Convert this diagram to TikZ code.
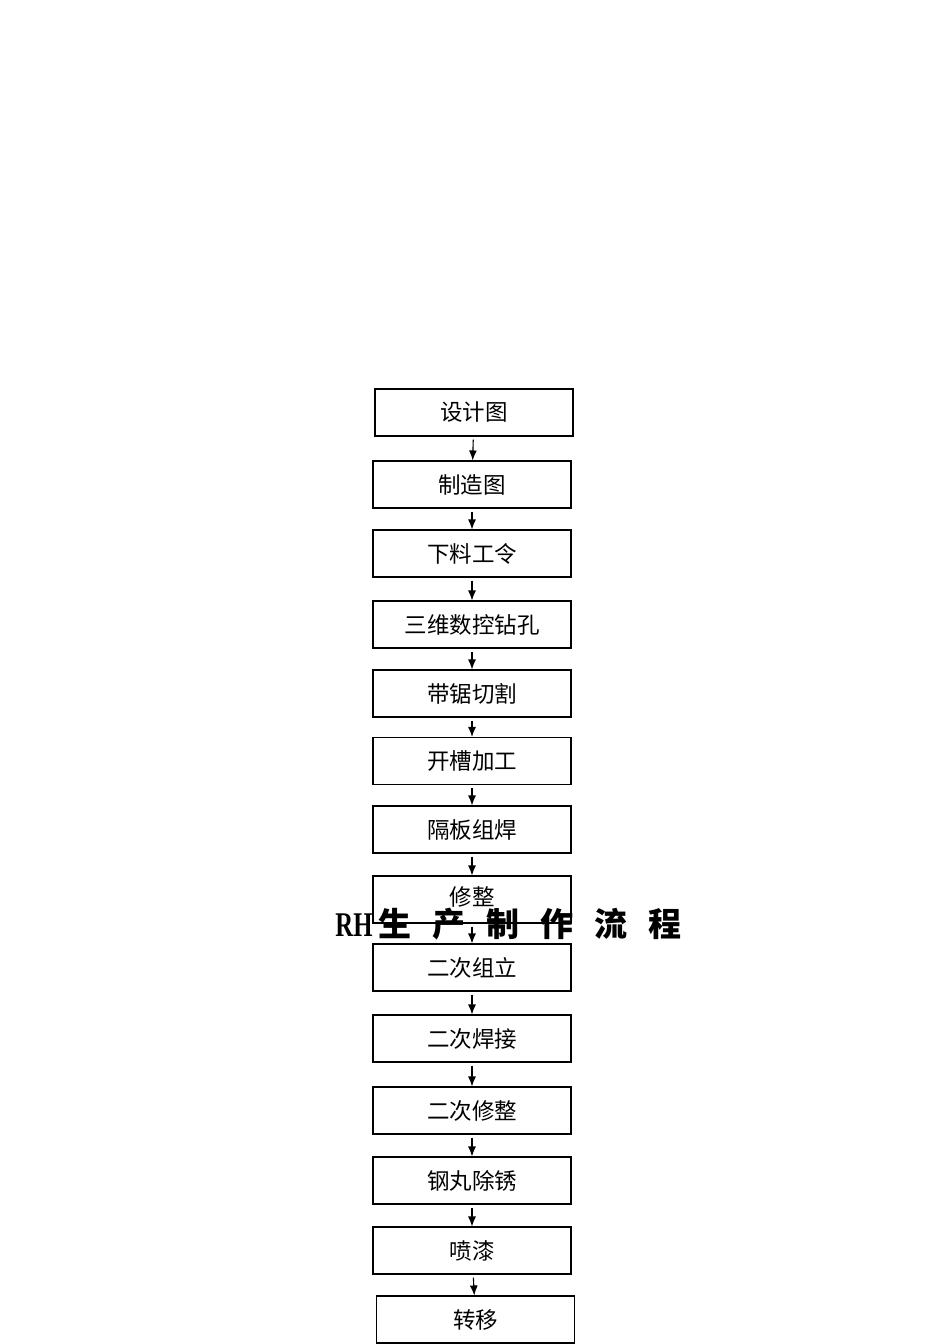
\documentclass[tikz,border=0pt]{standalone}
\usepackage{fontspec}
\setmainfont{Liberation Serif}
\newfontfamily\cjk{Noto Sans CJK SC}
\usetikzlibrary{arrows.meta}
\begin{document}
\begin{tikzpicture}
	[x=1pt,y=-1pt,every node/.style={draw,rectangle,line width=1.1pt,minimum width=198pt,minimum height=47pt,inner sep=0pt,font=\cjk\fontsize{22.5}{22.5}\selectfont}]
	\useasboundingbox (0,0) rectangle (950,1344);
	\node (p1) at (474,412.5) {设计图};
	\node (p2) at (472,484.5) {制造图};
	\node (p3) at (472,553.5) {下料工令};
	\node (p4) at (472,624.5) {三维数控钻孔};
	\node (p5) at (472,693.5) {带锯切割};
	\node (p6) at (472,761) {开槽加工};
	\node (p7) at (472,829.5) {隔板组焊};
	\node (p8) at (472,899.5) {};
	\node[draw=none,minimum width=0pt,minimum height=0pt] (p8t) at (472,897) {修整};
	\node (p9) at (472,967.5) {二次组立};
	\node (p10) at (472,1038.5) {二次焊接};
	\node (p11) at (472,1110.5) {二次修整};
	\node (p12) at (472,1180.5) {钢丸除锈};
	\node (p13) at (472,1250.5) {喷漆};
	\node (p14) at (475.5,1319.5) {转移};
	\foreach \from/\to in {p1/p2,p2/p3,p3/p4,p4/p5,p5/p6,p6/p7,p7/p8,p8/p9,p9/p10,p10/p11,p11/p12,p12/p13,p13/p14}
	\draw[line width=1.1pt,-{Latex[length=10pt,width=8pt]},shorten <=3pt] (\from) -- (\to);
	\node[draw=none,minimum width=0pt,minimum height=0pt,font=\cjk\bfseries\fontsize{33}{33}\selectfont] (title) at (508.5,924)
		{\scalebox{0.75}[1.05]{\bfseries\rmfamily RH}\hspace{6pt}生\hspace{21pt}产\hspace{21pt}制\hspace{21pt}作\hspace{21pt}流\hspace{21pt}程};
\end{tikzpicture}
\end{document}
